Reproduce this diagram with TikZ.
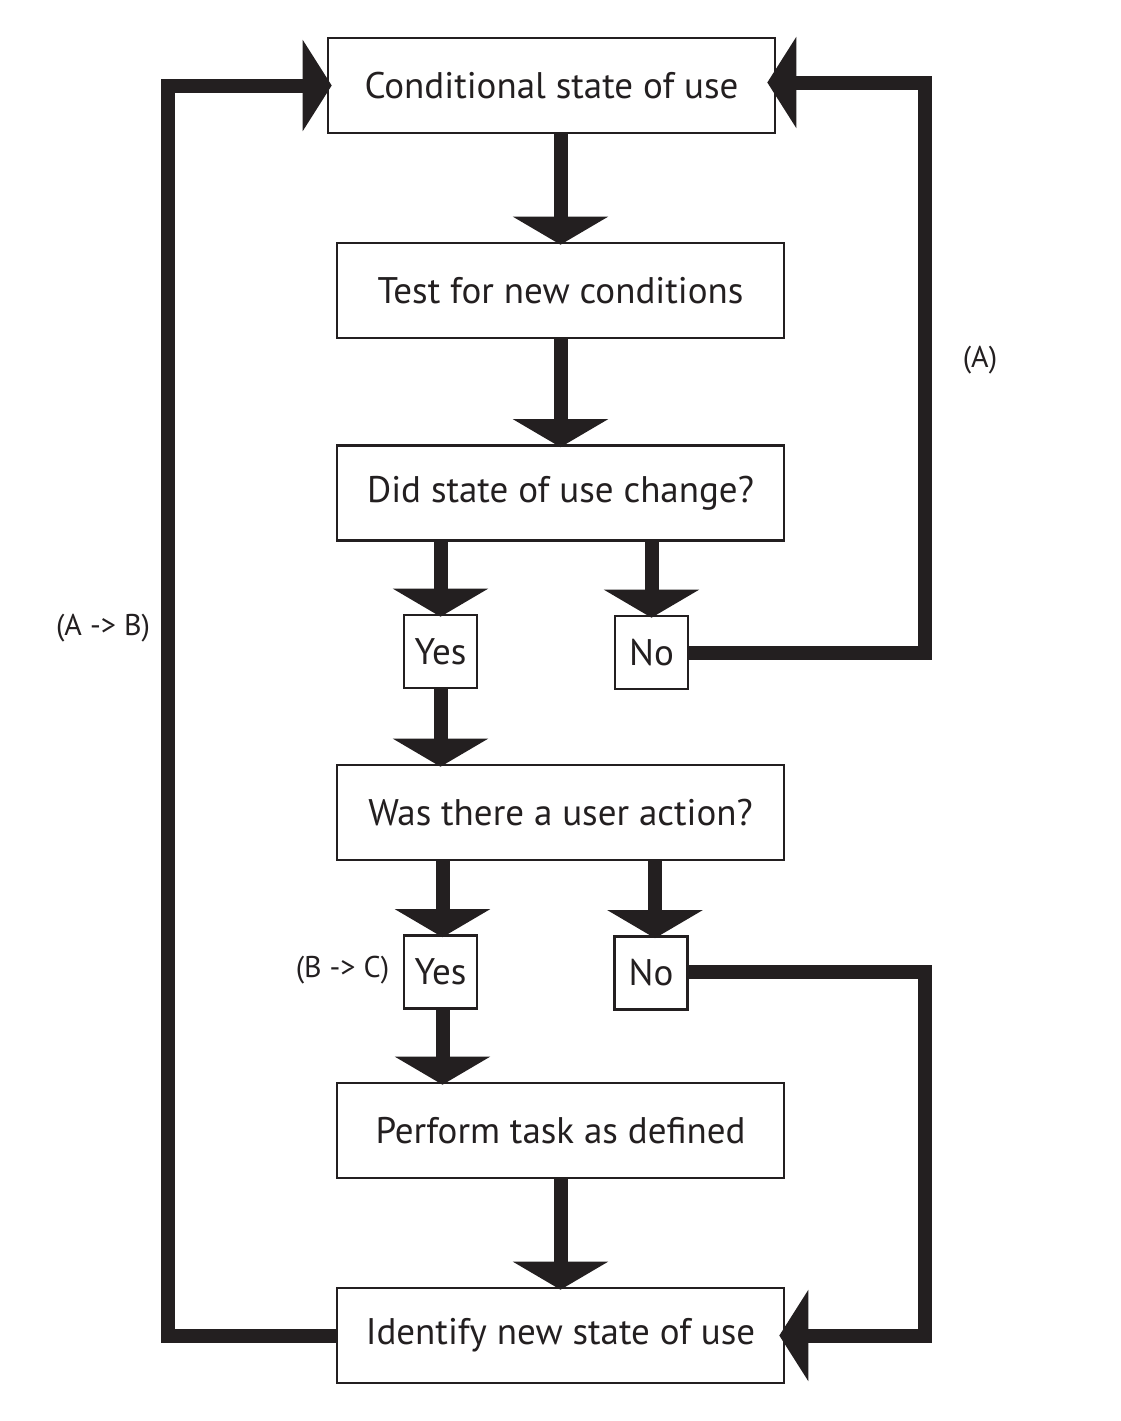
\documentclass[tikz,border=0pt]{standalone}
\usepackage{fontspec}
\setmainfont{PT Sans}
\usetikzlibrary{arrows.meta}
\definecolor{ink}{HTML}{231F20}
\begin{document}
\begin{tikzpicture}[x=1pt,y=-1pt,
 box/.style={draw=ink, line width=2.6pt, fill=white, minimum width=447pt, minimum height=95pt, inner sep=0pt, font=\fontsize{37}{44}\selectfont, text=ink},
 small/.style={box, minimum width=73pt, minimum height=73pt},
 lab/.style={font=\fontsize{30}{36}\selectfont, text=ink},
 arr/.style={draw=ink, line width=14pt, line join=miter, -{Triangle[width=94pt,length=28pt]}, shorten >=-3pt},
 side/.style={draw=ink, line width=14pt, line join=miter, -{Triangle[width=90pt,length=29pt]}},
]
\useasboundingbox (0,0) rectangle (1121,1421);
\node[box] (b1) at (551.5,85.5) {Conditional state of use};
\node[box] (b2) at (560.5,290.5) {Test for new conditions};
\node[box] (b3) at (560.5,493) {Did state of use change?};
\node[small] (y1) at (440.5,651.5) {Yes};
\node[small] (n1) at (651.5,652.5) {No};
\node[box] (b4) at (560.5,812.5) {Was there a user action?};
\node[small] (y2) at (440.5,972) {Yes};
\node[small] (n2) at (651,973) {No};
\node[box] (b5) at (560.5,1130.5) {Perform task as defined};
\node[box] (b6) at (560.5,1335.5) {Identify new state of use};
\coordinate (rx) at (925,0);
\coordinate (lx) at (168,0);
\node[lab] (la) at (980,360) {(A)};
\node[lab] (lab) at (103,628) {(A -> B)};
\node[lab, anchor=east] (lbc) at ([xshift=-10pt,yshift=2pt]y2.west) {(B -> C)};
% vertical flow
\draw[arr] (b1.south -| b2.north) -- (b2.north);
\draw[arr] (b2.south) -- (b3.north);
\draw[arr] (b3.south -| y1.north) -- (y1.north);
\draw[arr] (b3.south -| n1.north) -- (n1.north);
\draw[arr] (y1.south) -- (y1.south |- b4.north);
\draw[arr] ([xshift=2pt]b4.south -| y2.north) -- ([xshift=2pt]y2.north);
\draw[arr] ([xshift=4pt]b4.south -| n2.north) -- ([xshift=4pt]n2.north);
\draw[arr] ([xshift=2pt]y2.south) -- ([xshift=2pt]y2.south |- b5.north);
\draw[arr] (b5.south) -- (b6.north);
% loops
\draw[side, shorten >=-9pt] (n1.east) -- (n1.east -| rx) |- ([yshift=3pt]b1.east);
\draw[side, shorten >=-6pt] ([yshift=1pt]n2.east) -- ([yshift=1pt]n2.east -| rx) |- (b6.east);
\draw[side, shorten >=-5pt] (b6.west) -- (b6.west -| lx) |- (b1.west);
\end{tikzpicture}
\end{document}
